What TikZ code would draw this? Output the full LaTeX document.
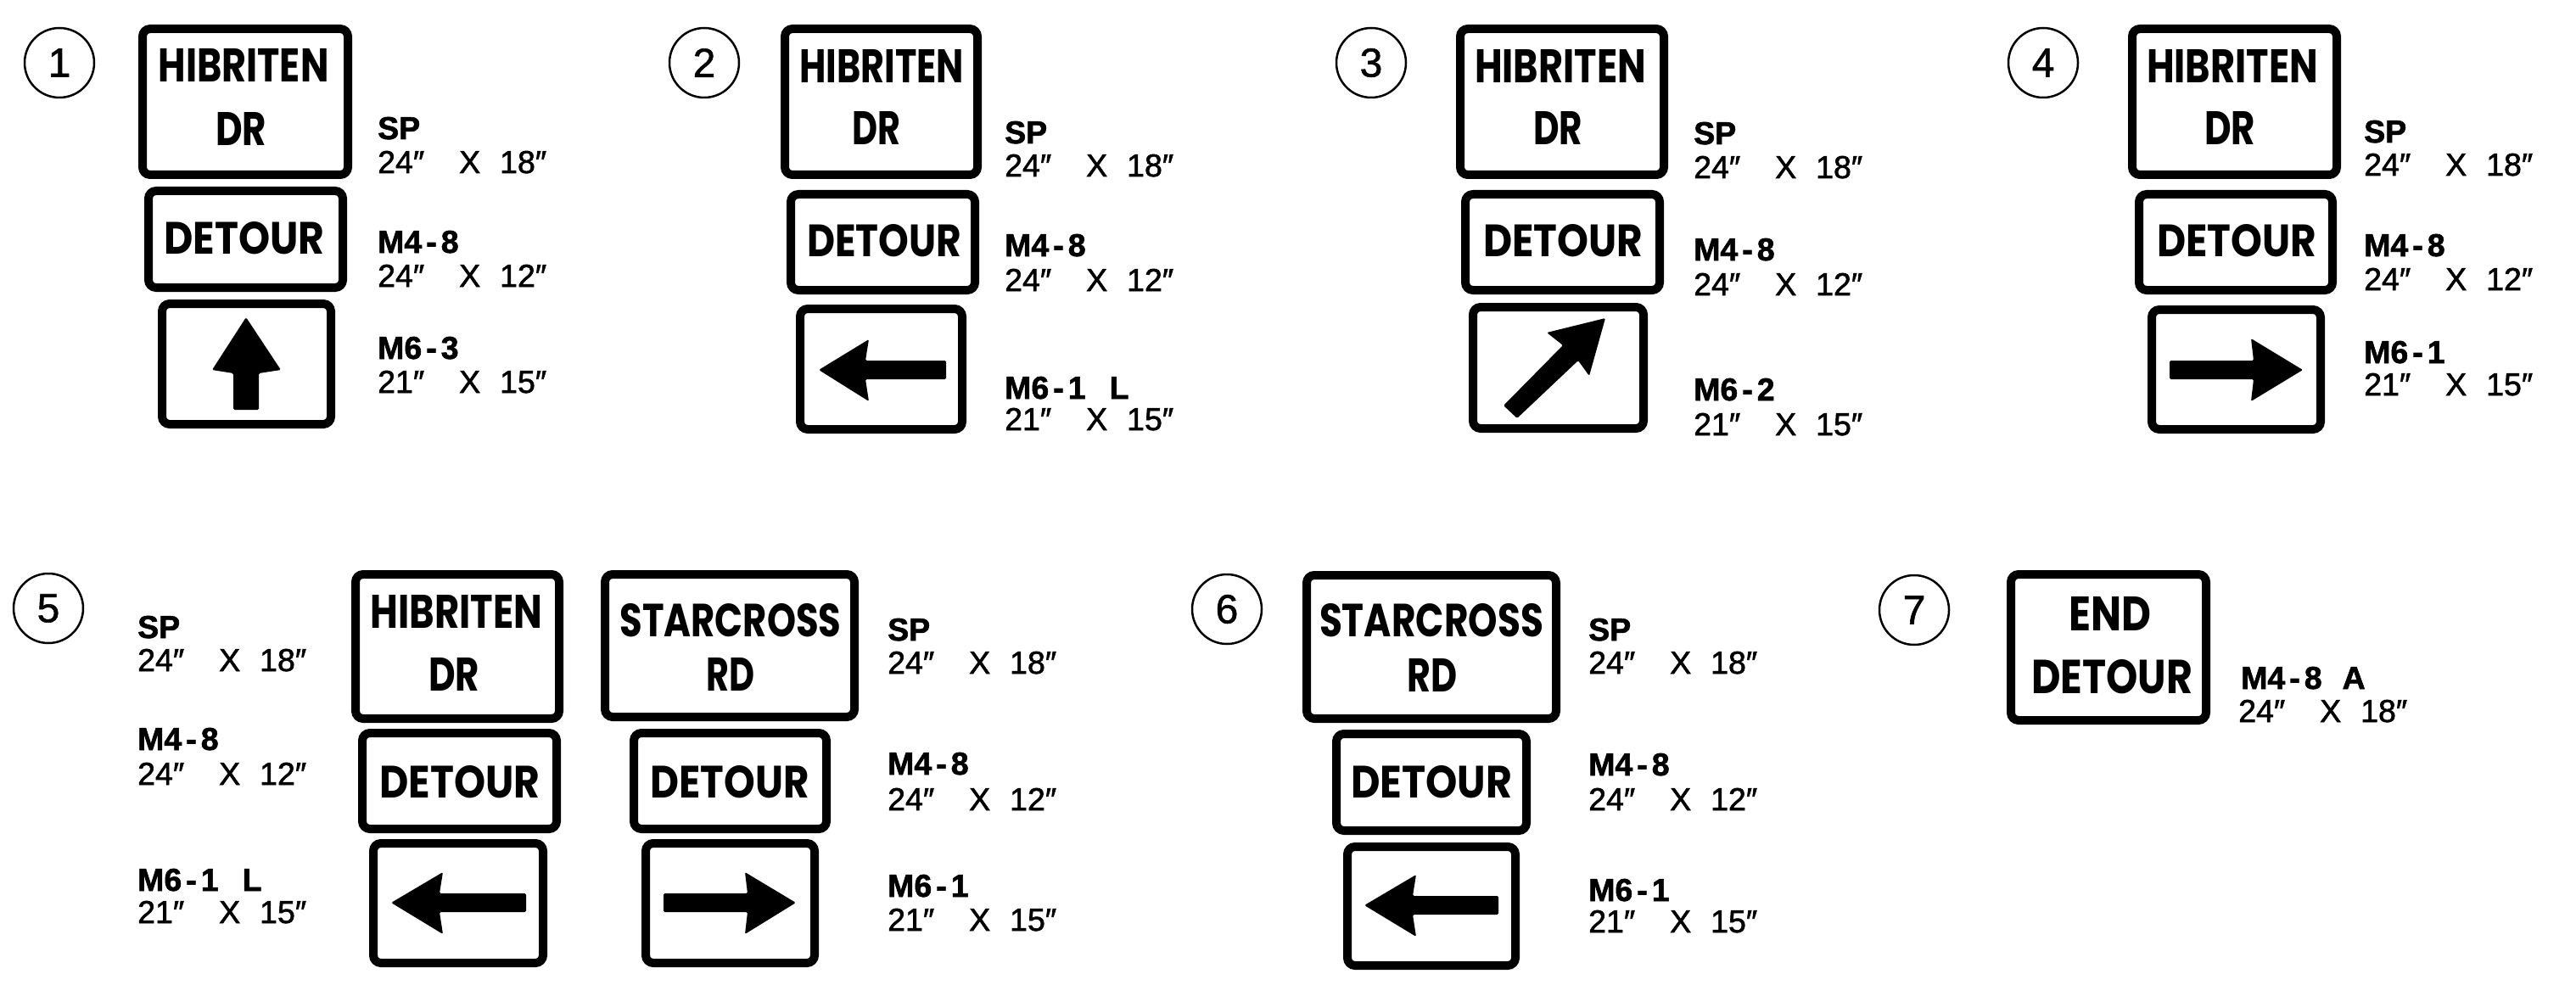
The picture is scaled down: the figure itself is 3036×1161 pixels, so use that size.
\documentclass[tikz,border=0pt]{standalone}
\usepackage{fontspec}
\setmainfont{Liberation Sans}
\newfontfamily\signfont{Poppins}
\newfontfamily\labfont[FakeBold=1.6]{Liberation Sans}
\newfontfamily\numfont[FakeBold=1.2]{Liberation Sans}
\newcommand\sgtext[3]{\resizebox{#1pt}{#2pt}{\signfont\bfseries #3}}
\newcommand\dblprime{″}
\newcommand\dimtxt[2]{\makebox[96pt][l]{#1\dblprime}\makebox[48pt][l]{X}#2\dblprime}
\newcommand\mcode[2]{\textbf{#1\hspace{5pt}-\hspace{5pt}#2}}
\newcommand\mksign[5]{\node[signbox, minimum width={#4-#2-10}, minimum height={#5-#3-10}] (#1) at ({(#2+#4)/2},{(#3+#5)/2}) {};}
\tikzset{
  signbox/.style={draw, line width=10pt, rounded corners=9pt, fill=white, inner sep=0pt},
  ring/.style={draw, circle, line width=2.5pt, minimum size=82pt, inner sep=0pt, font=\numfont\fontsize{48}{50}\selectfont},
  lab/.style={anchor=base west, inner sep=0pt, font=\labfont\fontsize{37.5}{40}\selectfont},
  sgt/.style={anchor=base, inner sep=0pt},
  arrowfill/.style={fill=black, rounded corners=1.5pt}
}
\begin{document}
\begin{tikzpicture}[x=1pt,y=-1pt]
\fill[white] (0,0) rectangle (3036,1161);
\useasboundingbox (0,0) rectangle (3036,1161);

% ---------------- circles
\node[ring] (c1) at (70,74) {1};
\node[ring] (c2) at (830,74) {2};
\node[ring] (c3) at (1616,74) {3};
\node[ring] (c4) at (2408,74) {4};
\node[ring] (c5) at (57,717) {5};
\node[ring] (c6) at (1446,718) {6};
\node[ring] (c7) at (2256,719) {7};

% ---------------- group 1
\mksign{g1a}{163}{29}{415}{211}
\mksign{g1b}{170}{220}{409}{344}
\mksign{g1c}{186}{353}{395}{505}
\node[sgt] (t1a) at (287,97) {\sgtext{201}{39}{HIBRITEN}};
\node[sgt] (t1b) at (284,172) {\sgtext{60}{39}{DR}};
\node[sgt] (t1c) at (288,299) {\sgtext{189}{38}{DETOUR}};
\fill[arrowfill] (290,374) -- (331,436) -- (305,440) -- (305,483) -- (275,483) -- (275,440) -- (250,436) -- cycle;
\node[lab] (l1a) at (445,164) {\textbf{SP}};
\node[lab] (l1b) at (445,204) {\dimtxt{24}{18}};
\node[lab] (l1c) at (445,298) {\mcode{M4}{8}};
\node[lab] (l1d) at (445,338) {\dimtxt{24}{12}};
\node[lab] (l1e) at (445,423) {\mcode{M6}{3}};
\node[lab] (l1f) at (445,463) {\dimtxt{21}{15}};

% ---------------- group 2
\mksign{g2a}{920}{29}{1157}{211}
\mksign{g2b}{927}{224}{1154}{347}
\mksign{g2c}{938}{359}{1139}{511}
\node[sgt] (t2a) at (1039,98) {\sgtext{194}{39}{HIBRITEN}};
\node[sgt] (t2b) at (1033,171) {\sgtext{57}{39}{DR}};
\node[sgt] (t2c) at (1042,302) {\sgtext{182}{38}{DETOUR}};
\fill[arrowfill] (965,436) -- (1024,400) -- (1020,425) -- (1115,425) -- (1115,447) -- (1020,447) -- (1024,473) -- cycle;
\node[lab] (l2a) at (1184,169) {\textbf{SP}};
\node[lab] (l2b) at (1184,208) {\dimtxt{24}{18}};
\node[lab] (l2c) at (1184,302) {\mcode{M4}{8}};
\node[lab] (l2d) at (1184,343) {\dimtxt{24}{12}};
\node[lab] (l2e) at (1184,470) {\mcode{M6}{1}\hspace{28pt}\textbf{L}};
\node[lab] (l2f) at (1184,507) {\dimtxt{21}{15}};

% ---------------- group 3
\mksign{g3a}{1716}{29}{1966}{211}
\mksign{g3b}{1722}{224}{1961}{347}
\mksign{g3c}{1731}{357}{1942}{510}
\node[sgt] (t3a) at (1839,98) {\sgtext{202}{39}{HIBRITEN}};
\node[sgt] (t3b) at (1836,171) {\sgtext{58}{39}{DR}};
\node[sgt] (t3c) at (1842,302) {\sgtext{188}{38}{DETOUR}};
\fill[arrowfill] (1892,375) -- (1823,392) -- (1842,407) -- (1772,478) -- (1788,493) -- (1860,425) -- (1873,443) -- cycle;
\node[lab] (l3a) at (1996,170) {\textbf{SP}};
\node[lab] (l3b) at (1996,210) {\dimtxt{24}{18}};
\node[lab] (l3c) at (1996,307) {\mcode{M4}{8}};
\node[lab] (l3d) at (1996,348) {\dimtxt{24}{12}};
\node[lab] (l3e) at (1996,472) {\mcode{M6}{2}};
\node[lab] (l3f) at (1996,513) {\dimtxt{21}{15}};

% ---------------- group 4
\mksign{g4a}{2508}{29}{2759}{211}
\mksign{g4b}{2516}{224}{2754}{347}
\mksign{g4c}{2531}{360}{2740}{511}
\node[sgt] (t4a) at (2631,98) {\sgtext{202}{39}{HIBRITEN}};
\node[sgt] (t4b) at (2628,171) {\sgtext{60}{39}{DR}};
\node[sgt] (t4c) at (2636,302) {\sgtext{188}{38}{DETOUR}};
\fill[arrowfill] (2557,425) -- (2656,425) -- (2653,399) -- (2714,436) -- (2653,473) -- (2656,447) -- (2557,447) -- cycle;
\node[lab] (l4a) at (2786,168) {\textbf{SP}};
\node[lab] (l4b) at (2786,207) {\dimtxt{24}{18}};
\node[lab] (l4c) at (2786,302) {\mcode{M4}{8}};
\node[lab] (l4d) at (2786,342) {\dimtxt{24}{12}};
\node[lab] (l4e) at (2786,428) {\mcode{M6}{1}};
\node[lab] (l4f) at (2786,466) {\dimtxt{21}{15}};

% ---------------- group 5 (left column)
\node[lab] (l5a) at (162,752) {\textbf{SP}};
\node[lab] (l5b) at (162,791) {\dimtxt{24}{18}};
\node[lab] (l5c) at (162,884) {\mcode{M4}{8}};
\node[lab] (l5d) at (162,925) {\dimtxt{24}{12}};
\node[lab] (l5e) at (162,1050) {\mcode{M6}{1}\hspace{28pt}\textbf{L}};
\node[lab] (l5f) at (162,1088) {\dimtxt{21}{15}};
\mksign{g5a}{414}{672}{664}{852}
\mksign{g5b}{422}{859}{661}{982}
\mksign{g5c}{435}{989}{645}{1140}
\node[sgt] (t5a) at (538,740) {\sgtext{203}{39}{HIBRITEN}};
\node[sgt] (t5b) at (535,814) {\sgtext{60}{39}{DR}};
\node[sgt] (t5c) at (542,940) {\sgtext{189}{38}{DETOUR}};
\fill[arrowfill] (461,1064) -- (522,1028) -- (518,1053) -- (620,1053) -- (620,1075) -- (518,1075) -- (522,1101) -- cycle;

% ---------------- group 5 (right column)
\mksign{g5d}{708}{672}{1012}{850}
\mksign{g5e}{742}{859}{979}{982}
\mksign{g5f}{756}{989}{965}{1140}
\node[sgt] (t5d) at (861,750) {\sgtext{261}{39}{STARCROSS}};
\node[sgt] (t5e) at (861,814) {\sgtext{57}{39}{RD}};
\node[sgt] (t5f) at (860,940) {\sgtext{187}{38}{DETOUR}};
\fill[arrowfill] (782,1053) -- (881,1053) -- (878,1028) -- (938,1064) -- (878,1101) -- (881,1075) -- (782,1075) -- cycle;
\node[lab] (l5g) at (1046,755) {\textbf{SP}};
\node[lab] (l5h) at (1046,794) {\dimtxt{24}{18}};
\node[lab] (l5i) at (1046,913) {\mcode{M4}{8}};
\node[lab] (l5j) at (1046,955) {\dimtxt{24}{12}};
\node[lab] (l5k) at (1046,1057) {\mcode{M6}{1}};
\node[lab] (l5l) at (1046,1097) {\dimtxt{21}{15}};

% ---------------- group 6
\mksign{g6a}{1535}{673}{1839}{852}
\mksign{g6b}{1570}{860}{1804}{984}
\mksign{g6c}{1583}{993}{1791}{1143}
\node[sgt] (t6a) at (1687,750) {\sgtext{264}{39}{STARCROSS}};
\node[sgt] (t6b) at (1688,815) {\sgtext{59}{39}{RD}};
\node[sgt] (t6c) at (1687,940) {\sgtext{190}{38}{DETOUR}};
\fill[arrowfill] (1608,1067) -- (1669,1031) -- (1665,1056) -- (1766,1056) -- (1766,1078) -- (1665,1078) -- (1669,1104) -- cycle;
\node[lab] (l6a) at (1872,755) {\textbf{SP}};
\node[lab] (l6b) at (1872,794) {\dimtxt{24}{18}};
\node[lab] (l6c) at (1872,914) {\mcode{M4}{8}};
\node[lab] (l6d) at (1872,955) {\dimtxt{24}{12}};
\node[lab] (l6e) at (1872,1062) {\mcode{M6}{1}};
\node[lab] (l6f) at (1872,1099) {\dimtxt{21}{15}};

% ---------------- group 7
\mksign{g7a}{2365}{672}{2605}{854}
\node[sgt] (t7a) at (2487,743) {\sgtext{97}{40}{END}};
\node[sgt] (t7b) at (2489,817) {\sgtext{190}{40}{DETOUR}};
\node[lab] (l7a) at (2641,812) {\mcode{M4}{8}\hspace{24pt}\textbf{A}};
\node[lab] (l7b) at (2638,851) {\dimtxt{24}{18}};
\end{tikzpicture}
\end{document}
